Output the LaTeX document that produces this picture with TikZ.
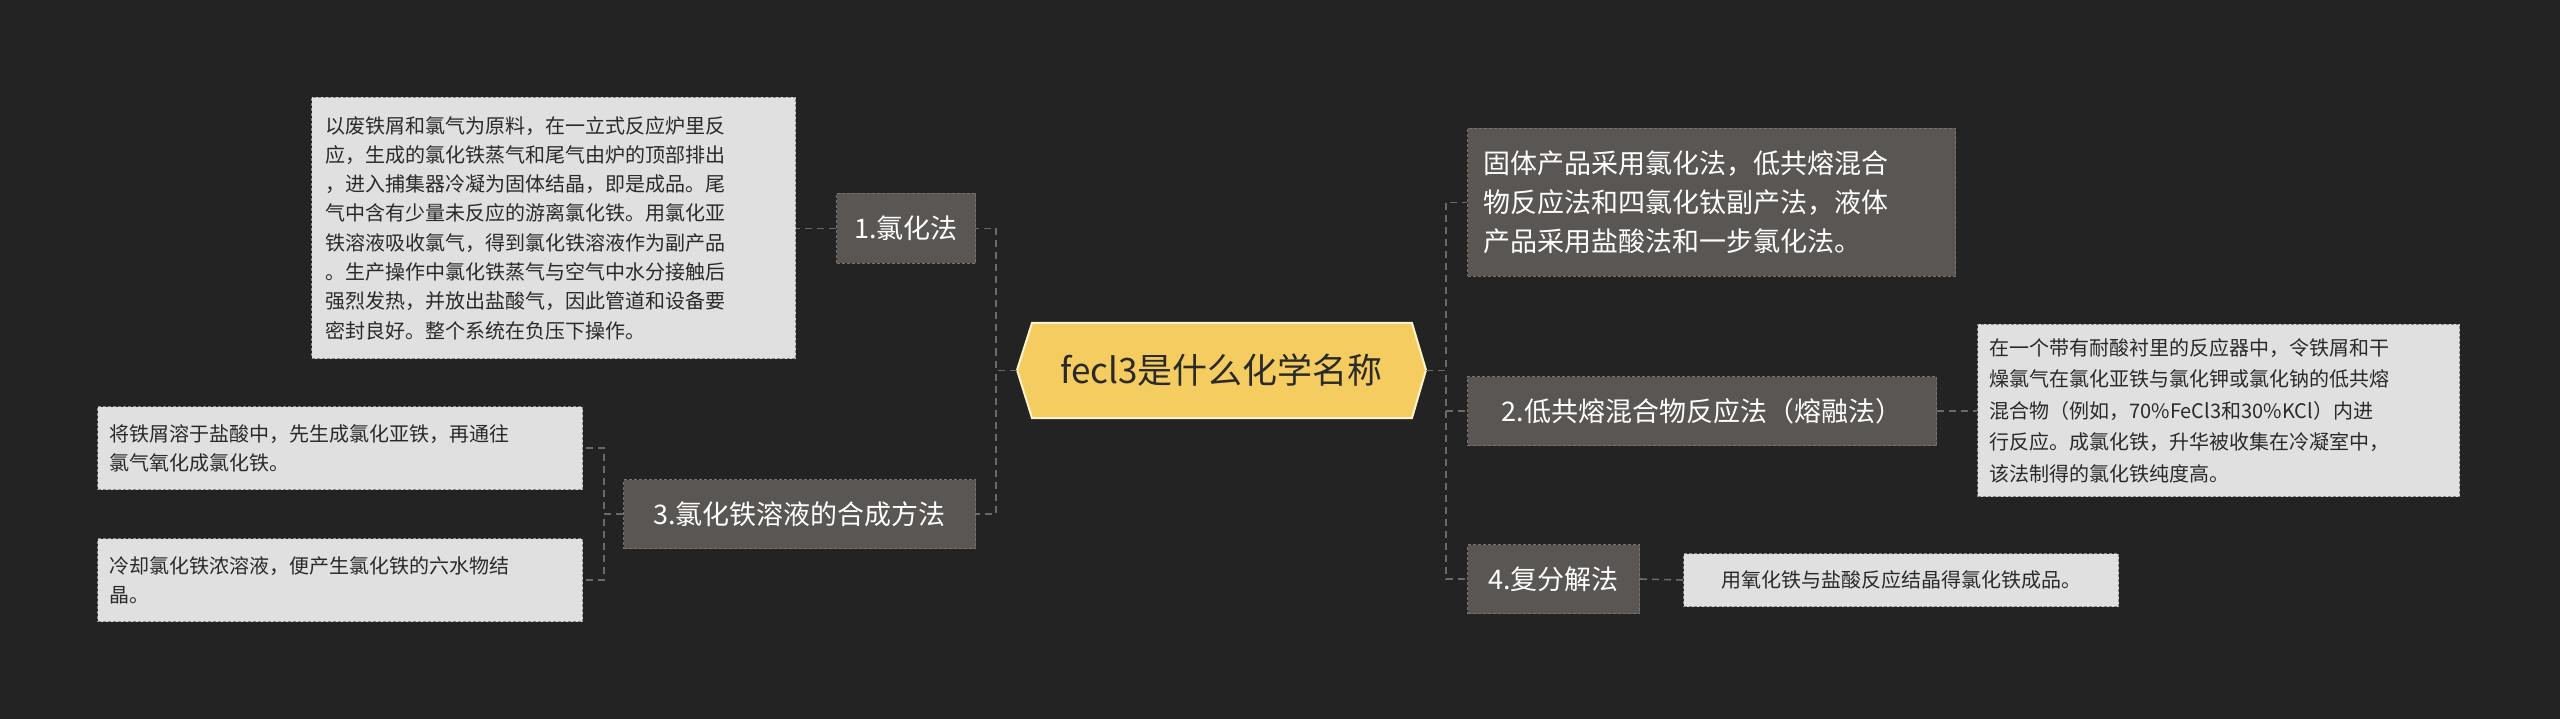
\documentclass[tikz,border=0pt]{standalone}
\usepackage{fontspec}
\setmainfont{Noto Sans CJK SC}
\begin{document}
\begin{tikzpicture}[x=1pt,y=-1pt,
  branch/.style={draw=#1,fill=brfill,dashed,dash pattern=on 3pt off 2pt,line width=1pt,text=white,inner sep=0pt,align=left,anchor=north west},
  branch/.default=brline,
  leafbox/.style={draw=leafline,fill=leaffill,dash pattern=on 3pt off 2pt,line width=1pt,text=leaftext,inner sep=0pt,align=left,anchor=north west,font=\fontsize{20}{29}\selectfont},
  conn/.style={draw=connc,line width=1.6pt,dash pattern=on 7pt off 5pt}]
\definecolor{bg}{HTML}{232323}
\definecolor{brfill}{HTML}{5A5653}
\definecolor{brline}{HTML}{76726F}
\definecolor{leaffill}{HTML}{E0E0E0}
\definecolor{leafline}{HTML}{8A8A8A}
\definecolor{leaftext}{HTML}{2A2A2A}
\definecolor{connc}{HTML}{6A6A6A}
\definecolor{cfill}{HTML}{F5CC5F}
\definecolor{cline}{HTML}{FFF3CC}
\fill[bg] (0,0) rectangle (2560,719);
\useasboundingbox (0,0) rectangle (2560,719);
% central
\fill[cfill,draw=cline,line width=2pt] (1017,370)--(1032,323)--(1412,323)--(1426,370)--(1412,418)--(1032,418)--cycle;
\node[inner sep=0pt,minimum width=409pt,minimum height=95pt,text=leaftext,font=\fontsize{35}{40}\selectfont] (c) at (1221.5,370.5) {fecl3是什么化学名称};
% left branches
\node[branch,minimum width=139pt,minimum height=70pt,font=\fontsize{27}{32}\selectfont,align=center] (n1) at (836,193) {1.氯化法};
\node[branch,minimum width=352pt,minimum height=69pt,font=\fontsize{27}{32}\selectfont,align=center] (n3) at (623,479) {3.氯化铁溶液的合成方法};
\node[leafbox,minimum width=484pt,minimum height=261pt,text width=484pt] (l1) at (311,97) {\hspace*{14pt}\parbox{456pt}{\fontsize{20}{29.3}\selectfont 以废铁屑和氯气为原料，在一立式反应炉里反\\应，生成的氯化铁蒸气和尾气由炉的顶部排出\\，进入捕集器冷凝为固体结晶，即是成品。尾\\气中含有少量未反应的游离氯化铁。用氯化亚\\铁溶液吸收氯气，得到氯化铁溶液作为副产品\\。生产操作中氯化铁蒸气与空气中水分接触后\\强烈发热，并放出盐酸气，因此管道和设备要\\密封良好。整个系统在负压下操作。}};
\node[leafbox,minimum width=485pt,minimum height=83pt,text width=485pt] (la) at (97,406) {\hspace*{12pt}\parbox{465pt}{将铁屑溶于盐酸中，先生成氯化亚铁，再通往\\氯气氧化成氯化铁。}};
\node[leafbox,minimum width=485pt,minimum height=83pt,text width=485pt] (lb) at (97,538) {\hspace*{12pt}\parbox{465pt}{冷却氯化铁浓溶液，便产生氯化铁的六水物结\\晶。}};
% right branches
\node[branch,minimum width=488pt,minimum height=148pt,text width=488pt,font=\fontsize{27}{39}\selectfont] (r1) at (1467,128) {\hspace*{16pt}\parbox{460pt}{固体产品采用氯化法，低共熔混合\\物反应法和四氯化钛副产法，液体\\产品采用盐酸法和一步氯化法。}};
\node[branch,minimum width=469pt,minimum height=69pt,font=\fontsize{27}{32}\selectfont,align=center] (r2) at (1467,376) {2.低共熔混合物反应法（熔融法）};
\node[branch,minimum width=172pt,minimum height=69pt,font=\fontsize{27}{32}\selectfont,align=center] (r4) at (1467,544) {4.复分解法};
\node[leafbox,minimum width=482pt,minimum height=172pt,text width=482pt] (l2) at (1977,324) {\hspace*{12pt}\parbox{460pt}{\fontsize{20}{31.5}\selectfont 在一个带有耐酸衬里的反应器中，令铁屑和干\\燥氯气在氯化亚铁与氯化钾或氯化钠的低共熔\\混合物（例如，70\%FeCl3和30\%KCl）内进\\行反应。成氯化铁，升华被收集在冷凝室中，\\该法制得的氯化铁纯度高。}};
\node[leafbox,minimum width=435pt,minimum height=53pt,align=center] (l4) at (1683,553) {用氧化铁与盐酸反应结晶得氯化铁成品。};
% connectors
\draw[conn] (c.west) -- ++(-21,0) |- (n1.east);
\draw[conn] (c.west) -- ++(-21,0) |- (n3.east);
\draw[conn] (n1.west) -- (l1.east |- n1.west);
\draw[conn] (n3.west) -- ++(-19,0) |- (la.east);
\draw[conn] (n3.west) -- ++(-19,0) |- (lb.east);
\draw[conn] (c.east) -- ++(20,0) |- (r1.west);
\draw[conn] (c.east) -- ++(20,0) |- (r2.west);
\draw[conn] (c.east) -- ++(20,0) |- (r4.west);
\draw[conn] (r2.east) -- (l2.west |- r2.east);
\draw[conn] (r4.east) -- (l4.west);
\end{tikzpicture}
\end{document}
